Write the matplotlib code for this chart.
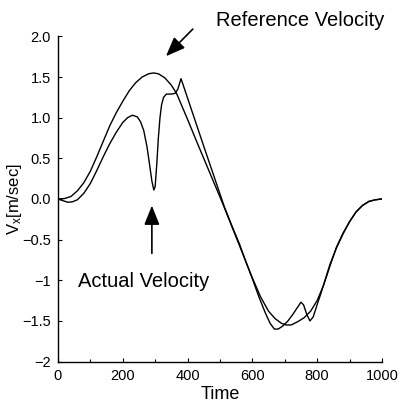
import matplotlib
matplotlib.use("Agg")
import matplotlib.pyplot as plt
from matplotlib.ticker import FixedLocator, FixedFormatter, MultipleLocator

plt.rcParams["font.family"] = ["Liberation Sans", "DejaVu Sans"]
plt.rcParams["mathtext.fontset"] = "custom"
plt.rcParams["mathtext.rm"] = "Liberation Sans"
plt.rcParams["mathtext.it"] = "Liberation Sans"

# reference velocity
t_ref = [0, 20, 40, 60, 80, 100, 120, 140, 160, 180, 200, 220, 240, 260, 280,
         295, 310, 330, 350, 366, 400, 430, 470, 508, 530, 550, 575, 600, 625,
         650, 670, 690, 705, 720, 740, 760, 780, 800, 820, 840, 860, 880, 900,
         920, 940, 960, 980, 1000]
v_ref = [0, 0.005, 0.03, 0.1, 0.2, 0.34, 0.52, 0.71, 0.9, 1.06, 1.2, 1.33, 1.43,
         1.5, 1.54, 1.55, 1.54, 1.49, 1.40, 1.30, 0.98, 0.69, 0.31, -0.05, -0.27,
         -0.47, -0.72, -0.97, -1.2, -1.38, -1.47, -1.53, -1.55, -1.55, -1.51,
         -1.46, -1.38, -1.25, -1.06, -0.82, -0.59, -0.42, -0.28, -0.16, -0.08,
         -0.03, -0.01, 0]

# actual velocity
t_act = [0, 15, 30, 45, 60, 80, 100, 120, 140, 160, 180, 200, 215, 230, 245,
         255, 265, 275, 283, 290, 296, 300, 305, 310, 315, 320, 326, 335, 350,
         362, 370, 380, 450, 514, 540, 560, 580, 600, 620, 640, 655, 668, 680,
         695, 710, 725, 740, 750, 758, 768, 778, 788, 800, 811, 822, 840, 860,
         880, 900, 920, 940, 960, 980, 1000]
v_act = [0, -0.02, -0.04, -0.035, -0.01, 0.07, 0.19, 0.35, 0.52, 0.68, 0.82,
         0.94, 1.0, 1.03, 1.01, 0.95, 0.84, 0.64, 0.42, 0.22, 0.11, 0.15, 0.42,
         0.75, 1.0, 1.16, 1.25, 1.29, 1.29, 1.30, 1.35, 1.48, 0.65, -0.1, -0.36,
         -0.55, -0.77, -0.98, -1.2, -1.4, -1.53, -1.6, -1.6, -1.56, -1.5, -1.42,
         -1.33, -1.27, -1.3, -1.42, -1.5, -1.45, -1.3, -1.17, -1.03, -0.8, -0.6,
         -0.43, -0.28, -0.16, -0.08, -0.03, -0.01, 0]

ytick_values = [-2, -1.5, -1, -0.5, 0, 0.5, 1, 1.5, 2]
ytick_labels = ["\u22122", "\u22121.5", "\u22121", "\u22120.5", "0.0", "0.5", "1.0", "1.5", "2.0"]
xtick_values = [0, 200, 400, 600, 800, 1000]

fig = plt.figure(figsize=(4.05, 4.04), dpi=100)
ax = fig.add_axes([0.143, 0.105, 0.8, 0.805])

ax.plot(t_ref, v_ref, color="black", lw=1.0)
ax.plot(t_act, v_act, color="black", lw=1.0)

ax.set_xlim(0, 1000)
ax.set_ylim(-2, 2)
ax.xaxis.set_major_locator(FixedLocator(xtick_values))
ax.xaxis.set_minor_locator(MultipleLocator(100))
ax.yaxis.set_major_locator(FixedLocator(ytick_values))
ax.yaxis.set_major_formatter(FixedFormatter(ytick_labels))

for side in ("top", "right"):
    ax.spines[side].set_visible(False)
for side in ("left", "bottom"):
    ax.spines[side].set_linewidth(1.0)

ax.tick_params(which="major", direction="in", length=3, width=0.8, labelsize=10.5, pad=5)
ax.tick_params(which="minor", direction="in", length=2, width=0.8)

ax.set_xlabel("Time", fontsize=13)
ax.xaxis.set_label_coords(0.5, -0.075)
ax.set_ylabel("V$_{\\mathrm{x}}$[m/sec]", fontsize=12)
ax.yaxis.set_label_coords(-0.105, 0.5)

ax.annotate("", xy=(0.405, 0.856), xytext=(0.481, 0.933), xycoords="figure fraction",
            textcoords="figure fraction",
            arrowprops=dict(arrowstyle="-|>,head_length=0.9,head_width=0.36",
                            mutation_scale=13, color="black", lw=1.2))
fig.text(0.533, 0.95, "Reference Velocity", fontsize=14.5, va="center", ha="left")

ax.annotate("", xy=(0.375, 0.498), xytext=(0.375, 0.366), xycoords="figure fraction",
            textcoords="figure fraction",
            arrowprops=dict(arrowstyle="-|>,head_length=0.9,head_width=0.36",
                            mutation_scale=13, color="black", lw=1.2))
fig.text(0.193, 0.302, "Actual Velocity", fontsize=14.5, va="center", ha="left")

fig.savefig("out.png", dpi=100)
